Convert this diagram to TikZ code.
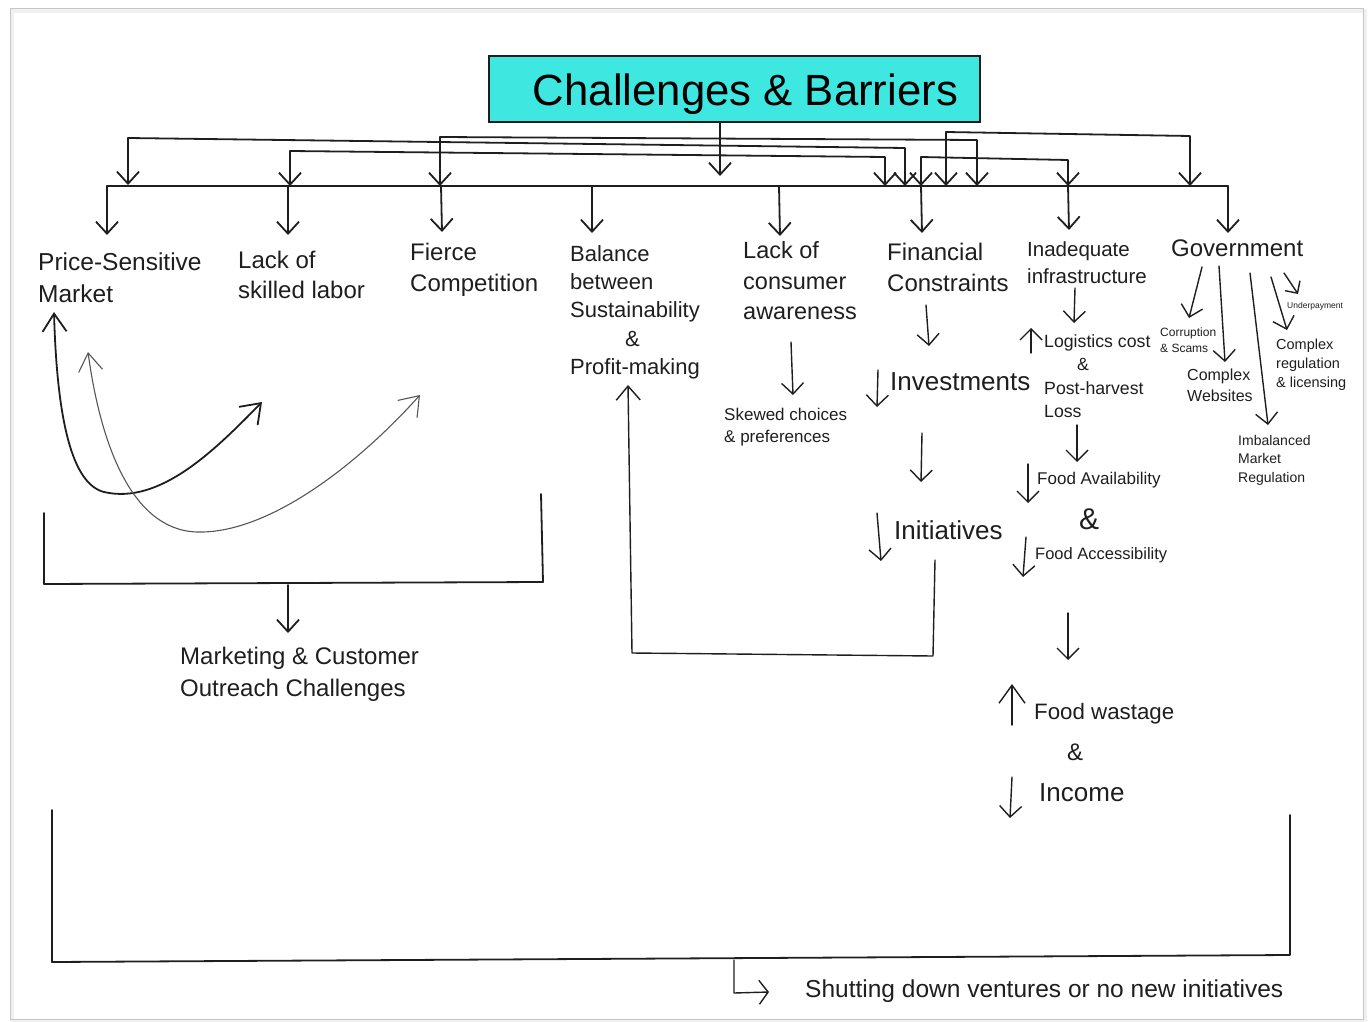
\documentclass[tikz,border=0pt]{standalone}
\usepackage{fontspec}
\setmainfont{Liberation Sans}
\usetikzlibrary{arrows.meta}
\definecolor{ink}{RGB}{30,30,30}
\definecolor{titlecyan}{RGB}{62,232,224}
\newcommand\myfs[2]{\fontsize{#1pt}{#2pt}\selectfont}
\begin{document}
\begin{tikzpicture}[x=1pt,y=-1pt,
  ln/.style={line width=1.8pt, draw=ink, line cap=round, line join=round},
  thin/.style={line width=1.4pt, draw=ink, line cap=round, line join=round},
  arr/.style={ln, -{Straight Barb[length=12pt,width=22pt]}},
  arrs/.style={thin, -{Straight Barb[length=11pt,width=22pt]}},
  arrb/.style={thin, -{Straight Barb[length=18pt,width=26pt]}},
  txt/.style={inner sep=0pt, text=ink, align=left, anchor=north west},
  amp/.style={inner sep=0pt, text=ink, anchor=center}]
\useasboundingbox (0,0) rectangle (1368,1022);
% page frame with soft shadow
\draw[gray!12, line width=4pt] (12,11) rectangle (1365,1021);
\draw[gray!45, line width=1pt] (10,9) rectangle (1363,1019);

% title
\node[draw=ink, line width=2pt, fill=titlecyan, minimum width=491pt, minimum height=66pt, inner sep=0pt] (title) at (734.5,89) {};
\node[inner sep=0pt, text=black, anchor=base, font=\myfs{43.7}{50}] (titletxt) at (745.5,105.6) {Challenges \& Barriers};

% category nodes
\node[txt, font=\myfs{24.5}{32}] (psm) at (38,252.2) {Price-Sensitive\\Market};
\node[txt, font=\myfs{24}{30}] (lsl) at (238,251.4) {Lack of\\skilled labor};
\node[txt, font=\myfs{24}{31}] (fc) at (410,243.4) {Fierce\\Competition};
\node[txt, font=\myfs{22}{28.3}] (bal) at (570,245) {Balance\\between\\Sustainability\\\hspace*{55pt}\&\\Profit-making};
\node[txt, font=\myfs{23.5}{30.5}] (lca) at (743,241.5) {Lack of\\consumer\\awareness};
\node[txt, font=\myfs{24}{31}] (fin) at (887,243.4) {Financial\\Constraints};
\node[txt, font=\myfs{20.5}{27}] (inf) at (1027,241.6) {Inadequate\\infrastructure};
\node[txt, font=\myfs{24}{30}] (gov) at (1171,239.4) {Government};

% sub nodes
\node[txt, font=\myfs{17}{22}] (skew) at (724,407.9) {Skewed choices\\\& preferences};
\node[txt, font=\myfs{26}{30}] (inv) at (890,372.6) {Investments};
\node[txt, font=\myfs{26}{30}] (ini) at (894,520.6) {Initiatives};
\node[txt, font=\myfs{17.7}{23.2}] (logi) at (1044,334.6) {Logistics cost\\\hspace*{33pt}\&\\Post-harvest\\Loss};
\node[txt, font=\myfs{17}{22}] (favail) at (1037,471.9) {Food Availability};
\node[amp, font=\myfs{30}{34}] (amp1) at (1089,519) {\&};
\node[txt, font=\myfs{16.5}{22}] (facc) at (1035,547.1) {Food Accessibility};
\node[txt, font=\myfs{22.3}{28}] (fwaste) at (1034,703) {Food wastage};
\node[amp, font=\myfs{24}{28}] (amp2) at (1075,752) {\&};
\node[txt, font=\myfs{26}{30}] (income) at (1039,783.6) {Income};
\node[txt, font=\myfs{12}{16}] (corr) at (1160,327.7) {Corruption\\\& Scams};
\node[txt, font=\myfs{16}{21}] (web) at (1187,368.3) {Complex\\Websites};
\node[txt, font=\myfs{14.5}{19}] (reg) at (1276,338.8) {Complex\\regulation\\\& licensing};
\node[txt, font=\myfs{8.5}{10}] (under) at (1287,302) {Underpayment};
\node[txt, font=\myfs{14}{18.5}] (imb) at (1238,435) {Imbalanced\\Market\\Regulation};
\node[txt, font=\myfs{24}{32}] (mkt) at (180,647.4) {Marketing \& Customer\\Outreach Challenges};
\node[txt, font=\myfs{24.5}{30}] (shut) at (805,979.2) {Shutting down ventures or no new initiatives};

% ---- top connectors ----
\coordinate (busL) at (107,186);
\coordinate (busR) at (1228,186);
\draw[ln] (busL) -- (busR);
\draw[arr] (title.south -| 720,0) -- (720,176);
\draw[arr] (128,138) -- (128,185);
\draw[arr] (128,138) -- (905,148) -- (905,186);
\draw[arr] (290,151) -- (290,186);
\draw[arr] (290,151) -- (885,157) -- (885,186);
\draw[arr] (440,137) -- (440,186);
\draw[arr] (440,137) -- (977,140) -- (977,186);
\draw[arr] (946,132) -- (946,186);
\draw[arr] (946,132) -- (1190,136) -- (1190,186);
\draw[arr] (921,157) -- (921,186);
\draw[arr] (921,157) -- (1068,160) -- (1068,186);
% drops from bus
\draw[arr] (busL) -- (107,235);
\draw[arr] (288,186) -- (288,235);
\draw[arr] (441,186) -- (442,232);
\draw[arr] (592,186) -- (592,233);
\draw[arr] (779,186) -- (780,236);
\draw[arr] (921,186) -- (922,233);
\draw[arr] (1068,186) -- (1069,230);
\draw[arr] (busR) -- (1228,233);

% ---- left curves ----
\draw[ln, {Straight Barb[length=18pt,width=24pt]}-{Straight Barb[length=18pt,width=26pt]}]
  (54,312) .. controls (57,420) and (72,484) .. (104,492) .. controls (160,505) and (215,450) .. (262,402);
\draw[line width=1.1pt, draw=ink!75, line cap=round, {Straight Barb[length=18pt,width=24pt]}-{Straight Barb[length=18pt,width=26pt]}]
  (88,352) .. controls (100,440) and (130,530) .. (197,532) .. controls (270,534) and (360,462) .. (420,395);

% left bracket
\draw[ln] (44,513) -- (44,584) -- (543,582) -- (541,494);
\draw[arr] (288,585) -- (288,633);

% ---- consumer awareness ----
\draw[arrs] (791,342) -- (793,395);

% ---- financial column ----
\draw[arrs] (926,305) -- (929,346);
\draw[arrs] (878,370) -- (877,407);
\draw[arrs] (922,433) -- (921,482);
\draw[arrs] (877,513) -- (881,561);
% back to balance
\draw[thin, -{Straight Barb[length=14pt,width=24pt]}] (935,560) -- (933,656) -- (632,653) -- (628,385);

% ---- infrastructure column ----
\draw[arrs] (1075,288) -- (1074,323);
\draw[arrs] (1031,353) -- (1031,328);
\draw[arrs] (1077,425) -- (1077,462);
\draw[arrs] (1028,464) -- (1028,503);
\draw[arrs] (1026,537) -- (1023,577);
\draw[arrs] (1068,613) -- (1068,660);
\draw[arrb] (1012,725) -- (1012,684);
\draw[arrs] (1012,777) -- (1010,818);

% ---- government branches ----
\draw[arrs] (1202,267) -- (1189,318);
\draw[arrs] (1219,266) -- (1225,362);
\draw[arrs] (1250,273) -- (1268,425);
\draw[arrs] (1271,277) -- (1287,330);
\draw[thin, -{Straight Barb[length=9pt,width=18pt]}] (1284,273) -- (1298,294);

% ---- bottom bracket ----
\draw[ln] (52,810) -- (52,962) -- (1290,955) -- (1290,815);
\draw[thin, -{Straight Barb[length=9pt,width=24pt]}] (734,960) -- (734,993) -- (769,992);
\end{tikzpicture}
\end{document}
